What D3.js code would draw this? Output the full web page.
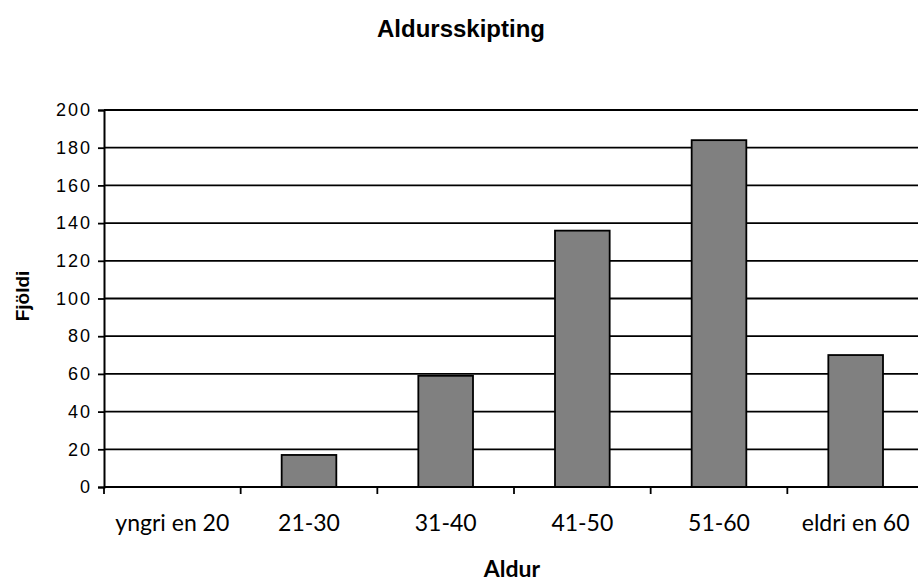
<!DOCTYPE html>
<html>
<head>
<meta charset="utf-8">
<script src="https://cdn.jsdelivr.net/npm/d3@7"></script>
<style>
  body { margin: 0; background: #fff; }
  .xlab { font-family: Lato, "Open Sans", sans-serif; font-size: 23px; }
</style>
</head>
<body>
<div class="root"></div>
<script>
const categories = ["yngri en 20", "21-30", "31-40", "41-50", "51-60", "eldri en 60"];
const counts = [0, 17, 59, 136, 184, 70];
const yTicks = [0, 20, 40, 60, 80, 100, 120, 140, 160, 180, 200];

const w = 918;
const h = 581;
const plotLeft = 104, plotRight = 924, plotTop = 110, plotBottom = 487;

const svg = d3.select(".root")
              .append("svg")
              .attr("width", w)
              .attr("height", h);

const xScale = d3.scaleBand()
                 .domain(categories)
                 .range([plotLeft, plotRight])
                 .paddingInner(0.6)
                 .paddingOuter(0.3);

// category boundaries for the tick marks
const step = (plotRight - plotLeft) / categories.length;

const yScale = d3.scaleLinear()
                 .domain([0, 200])
                 .range([plotBottom, plotTop]);

// gridlines
svg.append("g")
   .selectAll("line")
   .data(yTicks)
   .enter()
   .append("line")
   .attr("x1", plotLeft)
   .attr("x2", plotRight)
   .attr("y1", d => yScale(d))
   .attr("y2", d => yScale(d))
   .attr("stroke", "#000")
   .attr("stroke-width", 1.8);

// bars
svg.selectAll("rect")
   .data(counts)
   .enter()
   .append("rect")
   .attr("x", (d, i) => xScale(categories[i]))
   .attr("y", d => yScale(d))
   .attr("width", xScale.bandwidth())
   .attr("height", d => plotBottom - yScale(d))
   .attr("fill", "#808080")
   .attr("stroke", "#000")
   .attr("stroke-width", 1.8);

// y axis
const yAxis = d3.axisLeft(yScale).tickValues(yTicks).tickSize(6).tickPadding(6);
const yg = svg.append("g")
   .attr("transform", "translate(" + plotLeft + ",0)")
   .call(yAxis);
yg.select(".domain").attr("stroke-width", 2);
yg.selectAll(".tick line").attr("stroke-width", 1.8);
yg.selectAll("text")
  .attr("fill", "#000")
  .style("font-family", "'Liberation Sans', Arial, sans-serif")
  .style("font-size", "18px")
  .style("letter-spacing", "2px");

// x axis line and boundary ticks
svg.append("line")
   .attr("x1", plotLeft).attr("x2", plotRight)
   .attr("y1", plotBottom).attr("y2", plotBottom)
   .attr("stroke", "#000").attr("stroke-width", 2);
svg.append("g")
   .selectAll("line")
   .data(d3.range(categories.length + 1))
   .enter()
   .append("line")
   .attr("x1", i => plotLeft + i * step)
   .attr("x2", i => plotLeft + i * step)
   .attr("y1", plotBottom)
   .attr("y2", plotBottom + 7)
   .attr("stroke", "#000")
   .attr("stroke-width", 1.8);

svg.append("g")
   .selectAll("text")
   .data(categories)
   .enter()
   .append("text")
   .attr("class", "xlab")
   .attr("x", d => xScale(d) + xScale.bandwidth() / 2)
   .attr("y", 531)
   .attr("text-anchor", "middle")
   .text(d => d);

// titles
svg.append("text")
   .attr("x", 461)
   .attr("y", 37)
   .attr("text-anchor", "middle")
   .style("font-family", "'Liberation Sans', Arial, sans-serif")
   .style("font-weight", "bold")
   .style("font-size", "24px")
   .text("Aldursskipting");

svg.append("text")
   .attr("text-anchor", "middle")
   .attr("transform", "translate(29,296)rotate(-90)")
   .style("font-family", "'Liberation Sans', Arial, sans-serif")
   .style("font-weight", "bold")
   .style("font-size", "19px")
   .text("Fjöldi");

svg.append("text")
   .attr("x", 512)
   .attr("y", 577)
   .attr("text-anchor", "middle")
   .style("font-family", "Lato, sans-serif")
   .style("font-weight", "bold")
   .style("font-size", "23px")
   .text("Aldur");
</script>
</body>
</html>
